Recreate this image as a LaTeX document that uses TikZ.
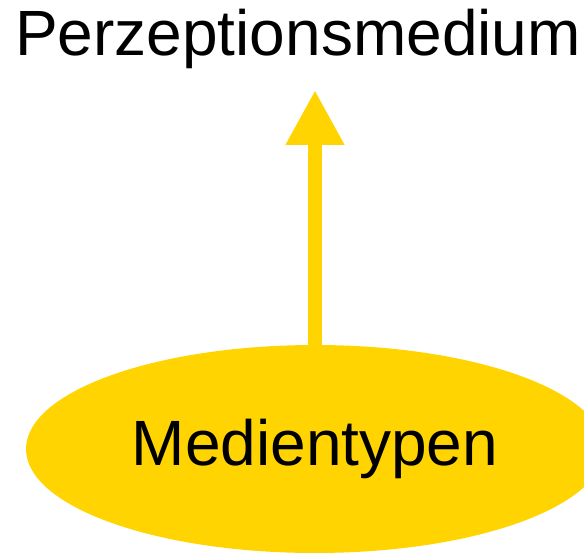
\documentclass[tikz,border=0pt]{standalone}
\usepackage{fontspec}
\setmainfont{Liberation Sans}
\usetikzlibrary{arrows.meta,shapes.geometric}
\definecolor{mediagold}{RGB}{255,212,0}
\begin{document}
\begin{tikzpicture}[x=1pt,y=-1pt,
    label text/.style={font=\fontsize{64}{70}\selectfont,inner sep=0pt},
    type blob/.style={ellipse,fill=mediagold,minimum width=578pt,minimum height=208pt,inner sep=0pt},
    up arrow/.style={draw=mediagold,line width=14pt,-{Triangle[width=55pt,length=55pt]}}]
      \useasboundingbox (0,0) rectangle (584,553);
      \node [label text,anchor=base] (percept) at (298,56) {Perzeptionsmedium};
      \node [type blob,label text] (types) at (315,449) {Medientypen};
      \coordinate (tip) at (315,90);
      \draw [up arrow] (types.north) -- (tip);
      \end{tikzpicture}
\end{document}
